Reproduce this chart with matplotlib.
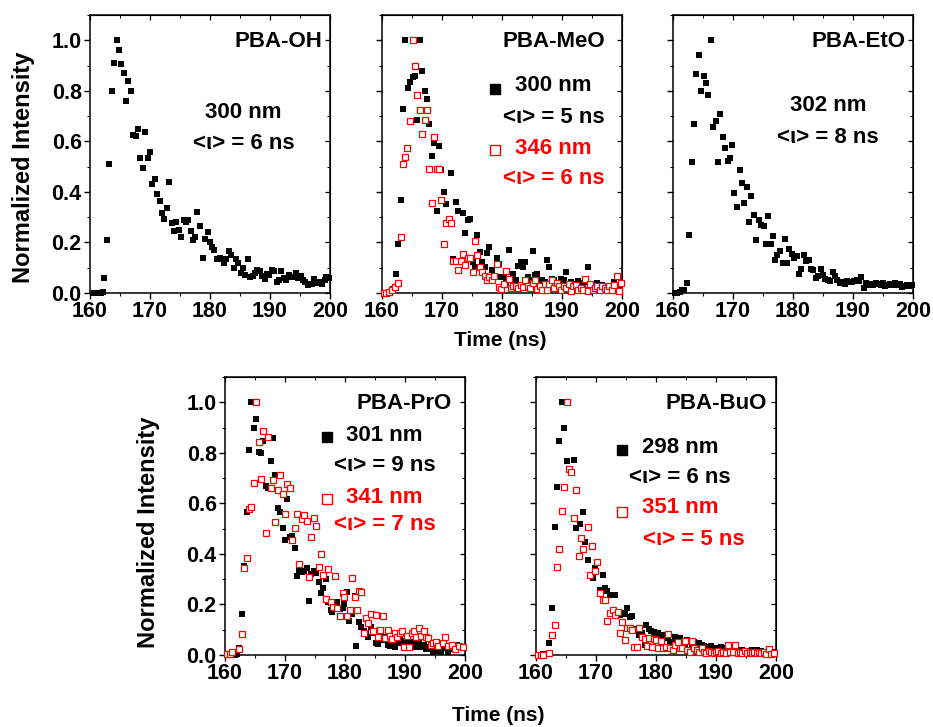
"""Normalized fluorescence decays of the PBA-OR series (five panels)."""

import matplotlib

matplotlib.use("Agg")
import matplotlib.pyplot as plt
import numpy as np
from matplotlib.ticker import MultipleLocator, NullFormatter

# ─── Data: (time ns, normalized intensity) ───────────────────────────────────

oh_300 = [
    (160.6, 0.0), (161.2, 0.0), (161.8, 0.0), (162.1, 0.003), (162.4, 0.06), (162.8, 0.21),
    (163.2, 0.51), (163.6, 0.8), (164.0, 0.91), (164.5, 1.0), (164.8, 0.96), (165.2, 0.905),
    (165.6, 0.87), (166.0, 0.76), (166.4, 0.84), (166.8, 0.80), (167.2, 0.625), (167.6, 0.62),
    (168.0, 0.65), (168.4, 0.535), (168.8, 0.495), (169.2, 0.635), (169.6, 0.535), (170.0, 0.557),
    (170.4, 0.43), (170.8, 0.45), (171.2, 0.393), (171.6, 0.364), (172.0, 0.318), (172.4, 0.294),
    (172.8, 0.337), (173.1, 0.44), (173.6, 0.275), (174.0, 0.245), (174.4, 0.28), (174.8, 0.25),
    (175.2, 0.22), (175.6, 0.29), (176.0, 0.28), (176.4, 0.29), (176.8, 0.245), (177.2, 0.21),
    (177.5, 0.22), (177.9, 0.32), (178.3, 0.265), (178.8, 0.14), (179.2, 0.215), (179.6, 0.242),
    (180.0, 0.2), (180.3, 0.18), (180.7, 0.17), (181.1, 0.133), (181.6, 0.14), (181.9, 0.133),
    (182.3, 0.117), (182.7, 0.135), (183.1, 0.168), (183.5, 0.149), (184.0, 0.1), (184.3, 0.135),
    (184.7, 0.12), (185.1, 0.08), (185.5, 0.1), (185.9, 0.072), (186.4, 0.135), (186.7, 0.063),
    (187.1, 0.066), (187.5, 0.08), (187.9, 0.09), (188.3, 0.086), (188.7, 0.066), (189.1, 0.054),
    (189.5, 0.074), (189.9, 0.07), (190.3, 0.09), (190.7, 0.087), (191.1, 0.042), (191.5, 0.05),
    (191.9, 0.087), (192.3, 0.06), (192.7, 0.05), (193.1, 0.072), (193.5, 0.063), (193.9, 0.063),
    (194.3, 0.08), (194.7, 0.06), (195.1, 0.066), (195.5, 0.053), (195.9, 0.044), (196.3, 0.03),
    (196.7, 0.037), (197.0, 0.034), (197.4, 0.057), (197.9, 0.038), (198.3, 0.044), (198.7, 0.034),
    (199.1, 0.053), (199.4, 0.063), (199.8, 0.06),
]

meo_300 = [
    (160.3, 0.0), (160.8, 0.0), (161.3, 0.0), (161.8, 0.017), (162.3, 0.077), (162.7, 0.195),
    (163.1, 0.367), (163.5, 0.726), (163.9, 1.0), (164.3, 0.81), (164.7, 0.834), (165.1, 0.855),
    (165.5, 0.857), (165.9, 0.683), (166.3, 1.0), (166.7, 0.879), (167.1, 0.8), (167.5, 0.768),
    (167.9, 0.67), (168.3, 0.543), (168.7, 0.594), (169.1, 0.325), (169.5, 0.583), (169.9, 0.485),
    (170.3, 0.4), (170.7, 0.354), (171.5, 0.475), (171.9, 0.133), (172.3, 0.36), (172.7, 0.325),
    (173.5, 0.317), (173.9, 0.237), (174.3, 0.288), (174.7, 0.292), (175.1, 0.123), (175.5, 0.103),
    (175.9, 0.231), (176.3, 0.162), (176.7, 0.123), (177.1, 0.103), (177.5, 0.158), (177.9, 0.182),
    (178.3, 0.09), (178.7, 0.066), (179.1, 0.14), (179.5, 0.116), (179.9, 0.063), (180.3, 0.063),
    (180.7, 0.04), (181.1, 0.169), (181.5, 0.05), (181.9, 0.077), (182.3, 0.05), (182.7, 0.107),
    (183.1, 0.123), (183.5, 0.103), (183.9, 0.123), (184.3, 0.063), (184.7, 0.05), (185.1, 0.165),
    (185.5, 0.07), (185.9, 0.077), (186.3, 0.05), (186.7, 0.053), (187.1, 0.044), (187.5, 0.129),
    (187.9, 0.103), (188.3, 0.057), (188.7, 0.05), (189.1, 0.04), (189.5, 0.03), (189.9, 0.057),
    (190.3, 0.05), (190.7, 0.083), (191.1, 0.03), (191.5, 0.044), (191.9, 0.03), (192.3, 0.037),
    (192.7, 0.048), (193.1, 0.04), (193.5, 0.03), (193.9, 0.044), (194.3, 0.103), (194.7, 0.03),
    (195.1, 0.024), (195.5, 0.024), (195.9, 0.04), (196.3, 0.024), (196.7, 0.03), (197.1, 0.017),
    (197.5, 0.024), (197.9, 0.017), (198.3, 0.026), (198.7, 0.044), (199.1, 0.024), (199.5, 0.03),
    (199.9, 0.037),
]

meo_346 = [
    (160.3, 0.0), (160.7, 0.0), (161.1, 0.003), (161.6, 0.01), (162.2, 0.024), (162.7, 0.04),
    (163.1, 0.222), (163.5, 0.509), (163.9, 0.54), (164.2, 0.575), (164.7, 0.681), (165.1, 1.0),
    (165.5, 0.9), (165.9, 0.783), (166.3, 0.723), (166.7, 0.628), (167.1, 0.683), (167.5, 0.723),
    (167.9, 0.492), (168.3, 0.358), (168.7, 0.617), (169.1, 0.492), (169.5, 0.492), (169.9, 0.367),
    (170.3, 0.193), (170.7, 0.277), (171.1, 0.294), (171.5, 0.277), (171.9, 0.127), (172.3, 0.127),
    (172.7, 0.092), (173.1, 0.127), (173.5, 0.156), (173.9, 0.11), (174.3, 0.14), (174.7, 0.14),
    (175.1, 0.083), (175.5, 0.206), (175.9, 0.149), (176.3, 0.103), (176.7, 0.083), (177.1, 0.066),
    (177.5, 0.053), (177.9, 0.063), (178.3, 0.053), (178.7, 0.067), (179.1, 0.113), (179.5, 0.024),
    (179.9, 0.017), (180.3, 0.034), (180.7, 0.087), (181.1, 0.057), (181.5, 0.021), (181.9, 0.026),
    (182.3, 0.026), (182.7, 0.021), (183.1, 0.03), (183.5, 0.024), (183.9, 0.05), (184.3, 0.026),
    (184.7, 0.021), (185.1, 0.04), (185.5, 0.05), (185.9, 0.017), (186.3, 0.026), (186.7, 0.013),
    (187.1, 0.037), (187.5, 0.013), (187.9, 0.034), (188.3, 0.05), (188.7, 0.021), (189.1, 0.04),
    (189.5, 0.026), (189.9, 0.013), (190.3, 0.026), (190.7, 0.021), (191.1, 0.034), (191.5, 0.008),
    (191.9, 0.026), (192.3, 0.03), (192.7, 0.013), (193.1, 0.021), (193.5, 0.01), (193.9, 0.057),
    (194.3, 0.008), (194.7, 0.034), (195.1, 0.013), (195.5, 0.021), (195.9, 0.026), (196.3, 0.013),
    (196.7, 0.026), (197.1, 0.021), (197.5, 0.013), (197.9, 0.026), (198.3, 0.01), (198.7, 0.03),
    (199.1, 0.066), (199.5, 0.008), (199.9, 0.04),
]

eto_302 = [
    (160.3, 0.0), (160.7, 0.0), (161.1, 0.005), (161.5, 0.01), (161.9, 0.013), (162.3, 0.04),
    (162.7, 0.23), (163.1, 0.52), (163.5, 0.668), (163.9, 0.866), (164.3, 0.943), (164.7, 0.8),
    (165.1, 0.858), (165.5, 0.829), (165.9, 0.782), (166.3, 1.0), (166.7, 0.655), (167.1, 0.682),
    (167.5, 0.518), (167.9, 0.708), (168.3, 0.616), (168.7, 0.572), (169.1, 0.524), (169.5, 0.533),
    (169.9, 0.584), (170.2, 0.397), (170.7, 0.339), (171.1, 0.487), (171.5, 0.434), (171.9, 0.358),
    (172.3, 0.418), (172.6, 0.279), (173.0, 0.384), (173.5, 0.309), (173.9, 0.21), (174.3, 0.289),
    (174.7, 0.268), (175.1, 0.266), (175.5, 0.195), (175.9, 0.305), (176.3, 0.195), (176.7, 0.226),
    (177.0, 0.13), (177.4, 0.15), (177.9, 0.168), (178.3, 0.118), (178.7, 0.213), (179.0, 0.118),
    (179.4, 0.174), (179.8, 0.155), (180.2, 0.138), (180.6, 0.147), (181.0, 0.076), (181.4, 0.095),
    (181.8, 0.151), (182.2, 0.125), (182.6, 0.129), (183.0, 0.095), (183.4, 0.092), (183.8, 0.058),
    (184.2, 0.066), (184.6, 0.095), (185.0, 0.072), (185.4, 0.055), (185.8, 0.05), (186.2, 0.046),
    (186.6, 0.082), (187.0, 0.066), (187.4, 0.053), (187.8, 0.039), (188.2, 0.042), (188.6, 0.037),
    (189.0, 0.046), (189.4, 0.042), (189.8, 0.042), (190.2, 0.046), (190.6, 0.05), (191.0, 0.046),
    (191.4, 0.063), (191.8, 0.02), (192.2, 0.039), (192.6, 0.033), (193.0, 0.037), (193.4, 0.033),
    (193.8, 0.039), (194.2, 0.037), (194.6, 0.033), (195.0, 0.039), (195.4, 0.029), (195.8, 0.033),
    (196.2, 0.037), (196.6, 0.033), (197.0, 0.039), (197.4, 0.033), (197.8, 0.037), (198.2, 0.024),
    (198.6, 0.029), (199.0, 0.033), (199.4, 0.026), (199.8, 0.033),
]

pro_301 = [
    (160.4, 0.0), (160.8, 0.0), (161.2, 0.0), (161.6, 0.002), (162.0, 0.005), (162.4, 0.026),
    (162.8, 0.164), (163.2, 0.354), (163.6, 0.566), (164.0, 0.813), (164.4, 1.0), (164.8, 0.9),
    (165.2, 0.932), (165.6, 0.803), (166.0, 0.8), (166.4, 0.846), (166.8, 0.668), (167.2, 0.662),
    (167.6, 0.766), (168.0, 0.858), (168.4, 0.714), (168.8, 0.582), (169.2, 0.566), (169.6, 0.504),
    (170.0, 0.454), (170.4, 0.617), (170.8, 0.467), (171.2, 0.471), (171.6, 0.425), (172.0, 0.313),
    (172.4, 0.338), (172.8, 0.328), (173.2, 0.333), (173.6, 0.345), (174.0, 0.214), (174.4, 0.32),
    (174.8, 0.333), (175.2, 0.325), (175.6, 0.289), (176.0, 0.246), (176.4, 0.267), (176.8, 0.299),
    (177.2, 0.211), (177.6, 0.178), (177.9, 0.171), (178.3, 0.2), (178.7, 0.211), (179.2, 0.184),
    (179.6, 0.188), (179.9, 0.201), (180.3, 0.25), (180.7, 0.136), (181.1, 0.164), (181.6, 0.233),
    (181.9, 0.036), (182.3, 0.132), (182.7, 0.109), (183.1, 0.096), (183.5, 0.086), (183.9, 0.07),
    (184.3, 0.109), (184.7, 0.088), (185.1, 0.046), (185.5, 0.043), (185.9, 0.07), (186.3, 0.059),
    (186.7, 0.07), (187.1, 0.039), (187.5, 0.036), (187.9, 0.043), (188.3, 0.033), (188.7, 0.046),
    (189.1, 0.062), (189.5, 0.046), (189.9, 0.057), (190.3, 0.049), (190.7, 0.033), (191.1, 0.053),
    (191.5, 0.043), (191.9, 0.033), (192.3, 0.046), (192.7, 0.03), (193.1, 0.039), (193.5, 0.022),
    (193.9, 0.033), (194.3, 0.022), (194.7, 0.013), (195.1, 0.017), (195.5, 0.02), (196.0, 0.013),
    (196.4, 0.026), (197.2, 0.013), (197.9, 0.022), (198.6, 0.039), (199.4, 0.033),
]

pro_341 = [
    (160.4, 0.004), (160.8, 0.004), (161.2, 0.01), (162.4, 0.022), (162.8, 0.083), (163.2, 0.345),
    (163.6, 0.384), (164.0, 0.578), (164.4, 0.586), (164.8, 0.68), (165.2, 1.0), (165.6, 0.842),
    (166.0, 0.697), (166.4, 0.886), (166.8, 0.484), (167.2, 0.862), (167.6, 0.662), (168.0, 0.693),
    (168.4, 0.526), (168.8, 0.654), (169.2, 0.713), (169.6, 0.636), (170.0, 0.559), (170.4, 0.675),
    (170.8, 0.661), (171.2, 0.454), (171.6, 0.504), (172.0, 0.559), (172.4, 0.362), (172.8, 0.54),
    (173.2, 0.555), (173.6, 0.53), (174.0, 0.307), (174.4, 0.467), (174.8, 0.543), (175.2, 0.51),
    (175.6, 0.349), (176.0, 0.399), (176.4, 0.318), (176.8, 0.222), (177.2, 0.342), (177.6, 0.208),
    (178.0, 0.191), (178.3, 0.312), (178.7, 0.187), (179.2, 0.154), (179.6, 0.246), (179.9, 0.23),
    (180.3, 0.154), (180.8, 0.18), (181.2, 0.305), (181.6, 0.23), (182.0, 0.18), (182.3, 0.254),
    (182.7, 0.249), (183.1, 0.086), (183.5, 0.145), (183.9, 0.125), (184.3, 0.162), (184.7, 0.096),
    (185.1, 0.158), (185.5, 0.07), (185.9, 0.101), (186.3, 0.154), (186.7, 0.066), (187.1, 0.101),
    (187.5, 0.075), (187.9, 0.062), (188.3, 0.088), (188.7, 0.07), (189.1, 0.086), (189.5, 0.096),
    (189.9, 0.033), (190.3, 0.075), (190.7, 0.033), (191.1, 0.086), (191.5, 0.096), (191.9, 0.072),
    (192.3, 0.105), (192.7, 0.075), (193.1, 0.096), (193.5, 0.07), (193.9, 0.066), (194.3, 0.039),
    (194.7, 0.046), (195.1, 0.053), (195.5, 0.036), (196.3, 0.046), (196.7, 0.072), (197.2, 0.036),
    (197.9, 0.039), (198.3, 0.022), (199.05, 0.036), (199.6, 0.03),
]

buo_298 = [
    (160.4, 0.0), (161.2, 0.003), (162.2, 0.049), (162.7, 0.185), (163.1, 0.506), (163.5, 0.666),
    (163.9, 0.845), (164.3, 1.0), (164.7, 0.897), (165.2, 0.766), (166.3, 0.772), (166.7, 0.503),
    (167.4, 0.517), (167.8, 0.567), (168.2, 0.448), (168.7, 0.375), (169.5, 0.305), (169.8, 0.344),
    (170.7, 0.258), (171.1, 0.315), (171.5, 0.265), (171.9, 0.254), (172.3, 0.238), (173.2, 0.238),
    (173.6, 0.159), (174.0, 0.159), (174.4, 0.166), (174.8, 0.162), (175.2, 0.185), (175.6, 0.152),
    (176.0, 0.156), (176.4, 0.099), (176.8, 0.102), (177.2, 0.079), (177.6, 0.086), (178.1, 0.04),
    (178.4, 0.117), (178.8, 0.103), (179.2, 0.095), (179.6, 0.09), (180.0, 0.077), (180.4, 0.086),
    (180.8, 0.077), (181.2, 0.079), (181.6, 0.073), (182.0, 0.066), (182.4, 0.053), (182.8, 0.05),
    (183.2, 0.073), (183.6, 0.033), (184.0, 0.066), (184.4, 0.05), (184.8, 0.042), (185.2, 0.06),
    (185.6, 0.056), (186.0, 0.04), (186.4, 0.053), (186.8, 0.042), (187.2, 0.046), (187.6, 0.04),
    (188.0, 0.037), (188.4, 0.033), (188.8, 0.026), (189.2, 0.037), (189.6, 0.026), (190.0, 0.029),
    (190.4, 0.024), (190.8, 0.033), (191.2, 0.029), (191.6, 0.024), (192.0, 0.02), (192.4, 0.026),
    (192.8, 0.02), (193.2, 0.016), (193.6, 0.02), (194.0, 0.013), (194.4, 0.02), (194.8, 0.016),
    (195.1, 0.016), (195.6, 0.013), (196.0, 0.02), (196.4, 0.016), (196.8, 0.02), (197.2, 0.013),
    (197.5, 0.016), (198.0, 0.011), (198.4, 0.013), (198.8, 0.016), (199.2, 0.011), (199.6, 0.011),
]

buo_351 = [
    (160.4, 0.0), (160.8, 0.0), (161.2, 0.0), (162.2, 0.007), (162.7, 0.079), (163.1, 0.117),
    (163.5, 0.348), (163.9, 0.419), (164.3, 0.57), (164.6, 0.665), (165.1, 1.0), (165.5, 0.735),
    (165.9, 0.726), (166.3, 0.543), (166.7, 0.653), (167.1, 0.391), (167.5, 0.464), (167.8, 0.421),
    (168.7, 0.507), (169.0, 0.318), (169.4, 0.43), (169.8, 0.334), (170.2, 0.368), (170.7, 0.244),
    (171.1, 0.216), (171.5, 0.219), (171.9, 0.135), (172.4, 0.166), (172.8, 0.179), (173.2, 0.159),
    (173.6, 0.172), (174.0, 0.086), (174.4, 0.13), (174.8, 0.06), (175.2, 0.106), (175.6, 0.106),
    (176.0, 0.099), (176.4, 0.033), (176.8, 0.033), (177.2, 0.106), (177.7, 0.073), (178.1, 0.064),
    (178.5, 0.037), (178.9, 0.069), (179.3, 0.033), (179.6, 0.064), (180.0, 0.06), (180.4, 0.026),
    (180.8, 0.056), (181.2, 0.026), (181.6, 0.033), (182.0, 0.082), (182.4, 0.026), (182.8, 0.02),
    (183.2, 0.04), (183.6, 0.053), (184.0, 0.029), (184.4, 0.026), (184.8, 0.056), (185.2, 0.02),
    (185.6, 0.013), (186.0, 0.056), (186.4, 0.026), (186.8, 0.02), (187.2, 0.013), (187.6, 0.026),
    (188.0, 0.013), (188.4, 0.007), (188.8, 0.016), (189.2, 0.011), (189.6, 0.007), (190.0, 0.011),
    (190.4, 0.016), (190.8, 0.007), (191.2, 0.013), (191.6, 0.007), (192.0, 0.04), (192.4, 0.011),
    (192.8, 0.011), (193.2, 0.04), (193.6, 0.007), (194.0, 0.011), (194.4, 0.007), (194.8, 0.016),
    (195.1, 0.007), (195.6, 0.011), (196.0, 0.007), (196.4, 0.013), (196.8, 0.007), (197.2, 0.011),
    (197.5, 0.007), (198.0, 0.013), (198.4, 0.003), (198.8, 0.022), (199.2, 0.003), (199.6, 0.007),
]

RED = "#ff0000"
SANS = ["Liberation Sans", "DejaVu Sans"]
TICK_SIZE = 15.5


def style_axes(ax, show_ylabels):
    ax.set_xlim(160, 200)
    ax.set_ylim(0, 1.1)
    ax.xaxis.set_major_locator(MultipleLocator(10))
    ax.xaxis.set_minor_locator(MultipleLocator(5))
    ax.set_yticks(np.arange(0, 1.01, 0.2))
    ax.yaxis.set_minor_locator(MultipleLocator(0.1))
    ax.tick_params(which="major", direction="out", length=4, width=1.0, pad=2)
    ax.tick_params(which="minor", direction="out", length=2.5, width=0.8)
    for lab in ax.get_xticklabels() + ax.get_yticklabels():
        lab.set_family(SANS)
        lab.set_fontweight("bold")
        lab.set_fontsize(TICK_SIZE)
    if not show_ylabels:
        ax.yaxis.set_major_formatter(NullFormatter())
    for sp in ax.spines.values():
        sp.set_linewidth(1.1)
    # inward ticks on the top and right frame
    top = ax.secondary_xaxis("top")
    top.xaxis.set_major_locator(MultipleLocator(10))
    top.xaxis.set_minor_locator(MultipleLocator(5))
    top.xaxis.set_major_formatter(NullFormatter())
    top.tick_params(which="major", direction="in", length=3.5, width=0.9)
    top.tick_params(which="minor", direction="in", length=2, width=0.7)
    right = ax.secondary_yaxis("right")
    right.yaxis.set_major_locator(MultipleLocator(0.2))
    right.yaxis.set_minor_locator(MultipleLocator(0.1))
    right.yaxis.set_major_formatter(NullFormatter())
    right.tick_params(which="major", direction="in", length=3.5, width=0.9)
    right.tick_params(which="minor", direction="in", length=2, width=0.7)


def plot_black(ax, data):
    t, y = np.array(data).T
    ax.plot(t, y, "s", color="black", markersize=4.8, markeredgewidth=0, clip_on=False, zorder=3)


def plot_red(ax, data):
    t, y = np.array(data).T
    ax.plot(t, y, "s", markerfacecolor="white", markeredgecolor=RED, markersize=4.8,
            markeredgewidth=0.9, clip_on=False, zorder=4)


def label(ax, x, y, s, color="black", ha="left"):
    ax.text(x, y, s, transform=ax.transAxes, ha=ha, va="center", color=color,
            fontsize=16, fontweight="bold", family=SANS)


def key(ax, x, y, filled):
    if filled:
        ax.plot([x], [y], "s", color="black", markersize=7, transform=ax.transAxes, clip_on=False)
    else:
        ax.plot([x], [y], "s", markerfacecolor="white", markeredgecolor=RED, markersize=7,
                markeredgewidth=1.0, transform=ax.transAxes, clip_on=False)


fig = plt.figure(figsize=(9.33, 7.27), dpi=100)
W, H = 0.2572, 0.3824

# PBA-OH
ax1 = fig.add_axes([0.0965, 0.597, W, H])
plot_black(ax1, oh_300)
style_axes(ax1, True)
ax1.text(0.97, 0.905, "PBA-OH", transform=ax1.transAxes, ha="right", va="center",
         fontsize=16, fontweight="bold", family=SANS)
label(ax1, 0.64, 0.65, "300 nm", ha="center")
label(ax1, 0.64, 0.536, "<\u03b9> = 6 ns", ha="center")

# PBA-MeO
ax2 = fig.add_axes([0.4094, 0.597, W, H])
plot_black(ax2, meo_300)
plot_red(ax2, meo_346)
style_axes(ax2, False)
ax2.text(0.93, 0.905, "PBA-MeO", transform=ax2.transAxes, ha="right", va="center",
         fontsize=16, fontweight="bold", family=SANS)
key(ax2, 0.47, 0.733, True)
label(ax2, 0.555, 0.745, "300 nm")
label(ax2, 0.505, 0.633, "<\u03b9> = 5 ns")
key(ax2, 0.47, 0.514, False)
label(ax2, 0.555, 0.52, "346 nm", color=RED)
label(ax2, 0.505, 0.413, "<\u03b9> = 6 ns", color=RED)

# PBA-EtO
ax3 = fig.add_axes([0.7213, 0.597, W, H])
plot_black(ax3, eto_302)
style_axes(ax3, False)
ax3.text(0.967, 0.905, "PBA-EtO", transform=ax3.transAxes, ha="right", va="center",
         fontsize=16, fontweight="bold", family=SANS)
label(ax3, 0.646, 0.676, "302 nm", ha="center")
label(ax3, 0.646, 0.56, "<\u03b9> = 8 ns", ha="center")

# PBA-PrO
ax4 = fig.add_axes([0.2412, 0.099, W, H])
plot_black(ax4, pro_301)
plot_red(ax4, pro_341)
style_axes(ax4, True)
ax4.text(0.946, 0.905, "PBA-PrO", transform=ax4.transAxes, ha="right", va="center",
         fontsize=16, fontweight="bold", family=SANS)
key(ax4, 0.425, 0.784, True)
label(ax4, 0.505, 0.79, "301 nm")
label(ax4, 0.455, 0.683, "<\u03b9> = 9 ns")
key(ax4, 0.425, 0.561, False)
label(ax4, 0.505, 0.568, "341 nm", color=RED)
label(ax4, 0.455, 0.468, "<\u03b9> = 7 ns", color=RED)

# PBA-BuO
ax5 = fig.add_axes([0.5745, 0.099, W, H])
plot_black(ax5, buo_298)
plot_red(ax5, buo_351)
style_axes(ax5, False)
ax5.text(0.962, 0.905, "PBA-BuO", transform=ax5.transAxes, ha="right", va="center",
         fontsize=16, fontweight="bold", family=SANS)
key(ax5, 0.358, 0.737, True)
label(ax5, 0.442, 0.745, "298 nm")
label(ax5, 0.388, 0.637, "<\u03b9> = 6 ns")
key(ax5, 0.358, 0.514, False)
label(ax5, 0.442, 0.529, "351 nm", color=RED)
label(ax5, 0.446, 0.417, "<\u03b9> = 5 ns", color=RED)

# shared axis titles
fig.text(0.025, 0.77, "Normalized Intensity", rotation=90, ha="center", va="center",
         fontsize=17, fontweight="bold", family=SANS)
fig.text(0.159, 0.268, "Normalized Intensity", rotation=90, ha="center", va="center",
         fontsize=17, fontweight="bold", family=SANS)
fig.text(0.536, 0.532, "Time (ns)", ha="center", va="center",
         fontsize=15, fontweight="bold", family=SANS)
fig.text(0.534, 0.0165, "Time (ns)", ha="center", va="center",
         fontsize=15, fontweight="bold", family=SANS)

fig.savefig("out.png", dpi=100)
